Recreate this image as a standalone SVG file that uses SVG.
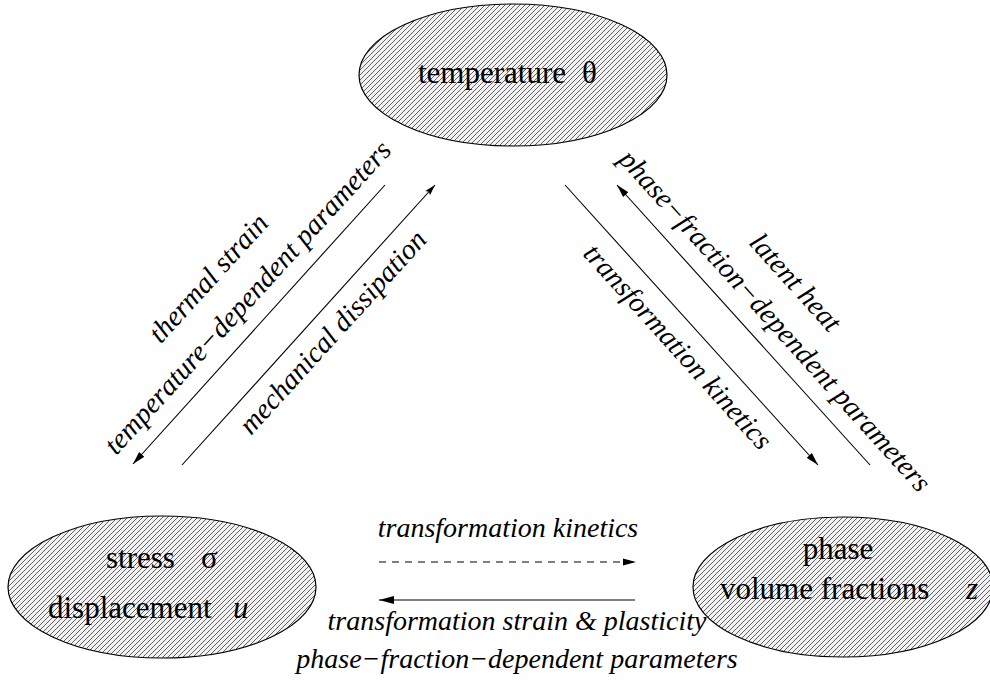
<svg xmlns="http://www.w3.org/2000/svg" width="990" height="684" viewBox="0 0 990 684">
<defs>
<pattern id="hatch" patternUnits="userSpaceOnUse" width="5" height="5">
<rect width="5" height="5" fill="#f2f2f2"/>
<path d="M-1,1 L1,-1 M0,5 L5,0 M4,6 L6,4" stroke="#222" stroke-width="0.7"/>
</pattern>
<marker id="ah" markerUnits="userSpaceOnUse" markerWidth="13" markerHeight="8" refX="13" refY="4" orient="auto">
<path d="M0,0.5 L13,4 L0,7.5 z" fill="#000"/>
</marker>
<marker id="ahs" markerUnits="userSpaceOnUse" markerWidth="11" markerHeight="8" refX="11" refY="4" orient="auto">
<path d="M0,0.8 L11,4 L0,7.2 L2,4 z" fill="#000"/>
</marker>
<marker id="ahb" markerUnits="userSpaceOnUse" markerWidth="15" markerHeight="9" refX="15" refY="4.5" orient="auto">
<path d="M0,0.5 L15,4.5 L0,8.5 z" fill="#000"/>
</marker>
</defs>
<style>
.node ellipse { fill: url(#hatch); stroke: #000; stroke-width: 1.2; }
.up { font-family: "Liberation Serif", "Times New Roman", serif; font-size: 31px; fill: #000; }
.it { font-family: "Liberation Serif", "Times New Roman", serif; font-style: italic; font-size: 28px; fill: #000; }
.rot { font-size: 28.5px; }
.ln { stroke: #000; stroke-width: 1.1; fill: none; }
</style>
<g id="node-temperature" class="node">
<ellipse cx="513" cy="75" rx="154" ry="71"/>
<text class="up" x="418" y="83">temperature</text>
<text class="up" x="582" y="83">θ</text>
</g>
<g id="node-stress" class="node">
<ellipse cx="162" cy="587" rx="154" ry="71"/>
<text class="up" x="106" y="568">stress</text>
<text class="up" x="201" y="568">σ</text>
<text class="up" x="48" y="618">displacement</text>
<text class="up" x="233" y="618" font-style="italic">u</text>
</g>
<g id="node-phase" class="node">
<ellipse cx="843" cy="587" rx="150" ry="70"/>
<text class="up" x="838" y="559" text-anchor="middle">phase</text>
<text class="up" x="720" y="599">volume fractions</text>
<text class="up" x="966" y="599" font-style="italic">z</text>
</g>
<g id="connectors">
<line class="ln" x1="385" y1="185" x2="133" y2="464" marker-end="url(#ah)"/>
<line class="ln" x1="182" y1="465" x2="435" y2="185" marker-end="url(#ahs)"/>
<line class="ln" x1="565" y1="185" x2="818" y2="465" marker-end="url(#ah)"/>
<line class="ln" x1="870" y1="465" x2="617" y2="185" marker-end="url(#ah)"/>
<line class="ln" x1="379" y1="562" x2="636" y2="562" stroke-dasharray="7,6" marker-end="url(#ah)"/>
<line class="ln" x1="635" y1="600" x2="379" y2="600" stroke-width="1.6" marker-end="url(#ahb)"/>
</g>
<g id="labels">
<g transform="translate(259,324) rotate(-47.8)">
<text class="it rot" x="12" y="-17" text-anchor="middle">temperature−dependent parameters</text>
<text class="it rot" x="0" y="-59" text-anchor="middle">thermal strain</text>
</g>
<g transform="translate(308.5,325) rotate(-47.8)">
<text class="it rot" x="11" y="32" text-anchor="middle">mechanical dissipation</text>
</g>
<g transform="translate(691.5,325) rotate(47.9)">
<text class="it rot" x="7" y="34" text-anchor="middle">transformation kinetics</text>
</g>
<g transform="translate(743.5,325) rotate(47.9)">
<text class="it rot" x="18" y="-17" text-anchor="middle">phase−fraction−dependent parameters</text>
<text class="it rot" x="3" y="-58" text-anchor="middle">latent heat</text>
</g>
<text class="it" x="508" y="537" text-anchor="middle">transformation kinetics</text>
<text class="it" x="517" y="630" text-anchor="middle">transformation strain &amp; plasticity</text>
<text class="it" x="517" y="668" text-anchor="middle">phase−fraction−dependent parameters</text>
</g>
</svg>
